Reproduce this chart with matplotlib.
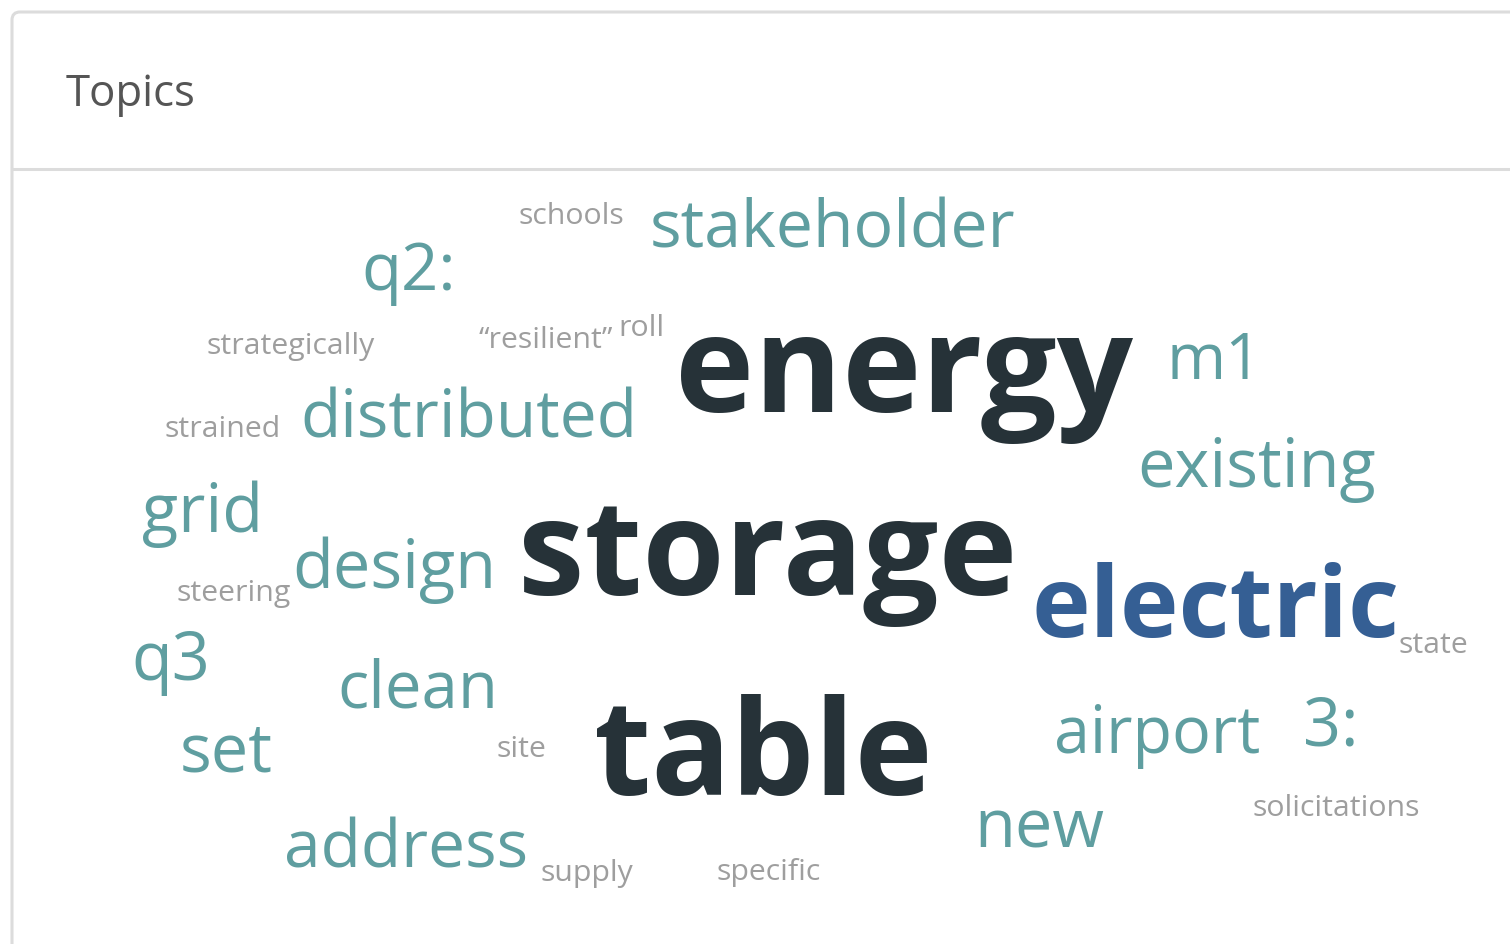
import matplotlib.pyplot as plt
from matplotlib.patches import FancyBboxPatch

plt.rcParams['font.family'] = ['Open Sans', 'DejaVu Sans']

# word cloud data: word, size (pt), weight group
words = ['schools', 'stakeholder', 'q2:', 'strategically', '\u201cresilient\u201d', 'roll',
         'energy', 'm1', 'strained', 'distributed', 'existing', 'grid', 'storage',
         'design', 'steering', 'electric', 'state', 'q3', 'clean', 'table', 'airport',
         '3:', 'set', 'site', 'solicitations', 'new', 'address', 'supply', 'specific']
sizes = [21.8, 47.7, 47, 21.8, 21.8, 21.8,
         96.5, 46, 21.8, 47.5, 48, 48, 96,
         48, 21.8, 71.5, 21.8, 48, 47, 95, 46.5,
         48, 48, 21.8, 21.8, 48, 47.5, 21.8, 21.8]
groups = ['low', 'mid', 'mid', 'low', 'low', 'low',
          'top', 'mid', 'low', 'mid', 'mid', 'mid', 'top',
          'mid', 'low', 'high', 'low', 'mid', 'mid', 'top', 'mid',
          'mid', 'mid', 'low', 'low', 'mid', 'mid', 'low', 'low']

colors = {'top': '#263238', 'high': '#355f94', 'mid': '#5f9ea0', 'low': '#9e9e9e'}
bold = {'top', 'high'}

# layout: left x, baseline y (pixels)
layout = [(519, 224), (650, 248), (361, 290), (206, 354), (479, 348), (618, 336),
          (675, 412), (1167, 379), (164, 437), (300, 437), (1137, 487), (142, 532), (518, 595),
          (292, 588), (177, 601), (1031, 637), (1399, 653), (131, 680), (337, 708), (594, 795), (1054, 753),
          (1303, 745), (180, 772), (497, 757), (1252, 816), (974, 847), (284, 867), (540, 881), (716, 880)]

fig = plt.figure(figsize=(15.1, 9.44), dpi=100)
ax = fig.add_axes([0, 0, 1, 1])
ax.set_xlim(0, 1510)
ax.set_ylim(944, 0)
ax.axis('off')

# card frame
card = FancyBboxPatch((12, 12), 1600, 1000, boxstyle='round,pad=0,rounding_size=8',
                      facecolor='white', edgecolor='#dcdcdc', linewidth=2.2)
ax.add_patch(card)
ax.plot([12, 1510], [169, 169], color='#dcdcdc', linewidth=2.2)
ax.text(66, 106, 'Topics', fontsize=31.5, color='#555555', va='baseline', ha='left')

for w, s, g, (x, y) in zip(words, sizes, groups, layout):
    ax.text(x, y, w, fontsize=s, color=colors[g], va='baseline', ha='left',
            fontweight='bold' if g in bold else 'normal')

fig.savefig('out.png', dpi=100)
